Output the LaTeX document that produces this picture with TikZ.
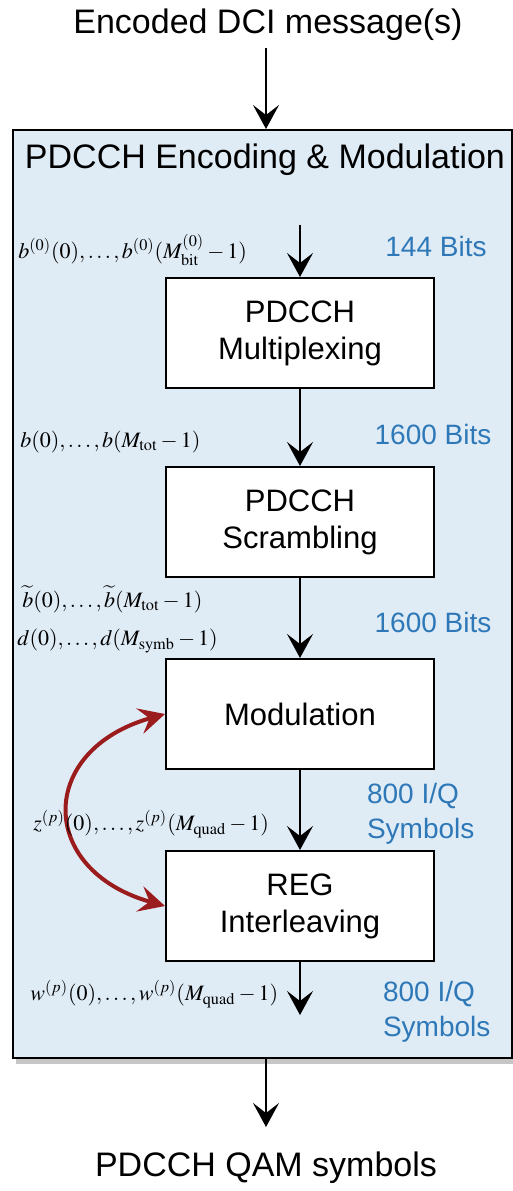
\documentclass[tikz,border=0pt]{standalone}
\usepackage{mathptmx}
\usepackage[no-math]{fontspec}
\setmainfont{Liberation Sans}
\usetikzlibrary{arrows.meta,shadows}
\definecolor{framefill}{HTML}{DFECF6}
\definecolor{bitblue}{HTML}{2E78B8}
\definecolor{arcred}{HTML}{9B1C1C}
\begin{document}
\begin{tikzpicture}[x=0.5pt,y=-0.5pt,
  tip/.style={-{Stealth[length=12pt,width=13pt,inset=5pt]}},
  flow/.style={draw,line width=1pt,tip},
  stage/.style={draw,fill=white,line width=1pt,minimum width=134pt,minimum height=55pt,
    align=center,font=\fontsize{15.5}{18.5}\selectfont},
  bits/.style={text=bitblue,font=\fontsize{14}{17.5}\selectfont,align=left},
  sig/.style={anchor=west,inner sep=0pt,font=\fontsize{11}{13}\selectfont},
  big/.style={font=\fontsize{17}{20}\selectfont}]
\useasboundingbox (0,0) rectangle (513,1191);

\node[draw,fill=framefill,line width=1pt,minimum width=249.5pt,minimum height=464pt,
  drop shadow={shadow xshift=1.5pt,shadow yshift=-3pt,opacity=.45}] (frame) at (262.5,594) {};

\node[big] (msgin) at (268,25) {Encoded DCI message(s)};
\node[big] (title) at (265,160) {PDCCH Encoding \& Modulation};
\node[big] (qam) at (266,1168) {PDCCH QAM symbols};

\coordinate (muxin) at (300,225);
\coordinate (regout) at (300,1015);
\coordinate (qamin) at (266,1127);

\node[stage] (mux) at (300,333) {PDCCH\\Multiplexing};
\node[stage] (scr) at (300,522) {PDCCH\\Scrambling};
\node[stage] (mod) at (300,714) {Modulation};
\node[stage] (reg) at (300,906) {REG\\Interleaving};

\draw[flow] (msgin.south -| qamin) -- (qamin |- frame.north);
\draw[flow] (muxin) -- (mux);
\draw[flow] (mux) -- (scr);
\draw[flow] (scr) -- (mod);
\draw[flow] (mod) -- (reg);
\draw[flow] (reg) -- (regout);
\draw[flow] (qamin |- frame.south) -- (qamin);

\draw[arcred,line width=2pt,{Stealth[length=13pt,width=13pt,inset=5pt]}-{Stealth[length=13pt,width=13pt,inset=5pt]}]
  (mod.west) .. controls (37,750) and (37,870) .. (reg.west);

\node[bits] (b144) at (436,246) {144 Bits};
\node[bits] (b1600a) at (433,434) {1600 Bits};
\node[bits] (b1600b) at (433,622) {1600 Bits};
\node[bits,anchor=west] (iq1) at (360,814) {800 I/Q\\Symbols};
\node[bits,anchor=west] (iq2) at (376,1012) {800 I/Q\\Symbols};

\node[sig] (sb0) at (18,250) {$b^{(0)}(0),\ldots,b^{(0)}(M^{(0)}_{\mathrm{bit}}-1)$};
\node[sig] (sb) at (20,442) {$b(0),\ldots,b(M_{\mathrm{tot}}-1)$};
\node[sig] (sbt) at (22,599) {$\widetilde{b}(0),\ldots,\widetilde{b}(M_{\mathrm{tot}}-1)$};
\node[sig] (sd) at (17,641) {$d(0),\ldots,d(M_{\mathrm{symb}}-1)$};
\node[sig] (sz) at (33,824) {$z^{(p)}(0),\ldots,z^{(p)}(M_{\mathrm{quad}}-1)$};
\node[sig] (sw) at (30,994) {$w^{(p)}(0),\ldots,w^{(p)}(M_{\mathrm{quad}}-1)$};

\end{tikzpicture}
\end{document}
